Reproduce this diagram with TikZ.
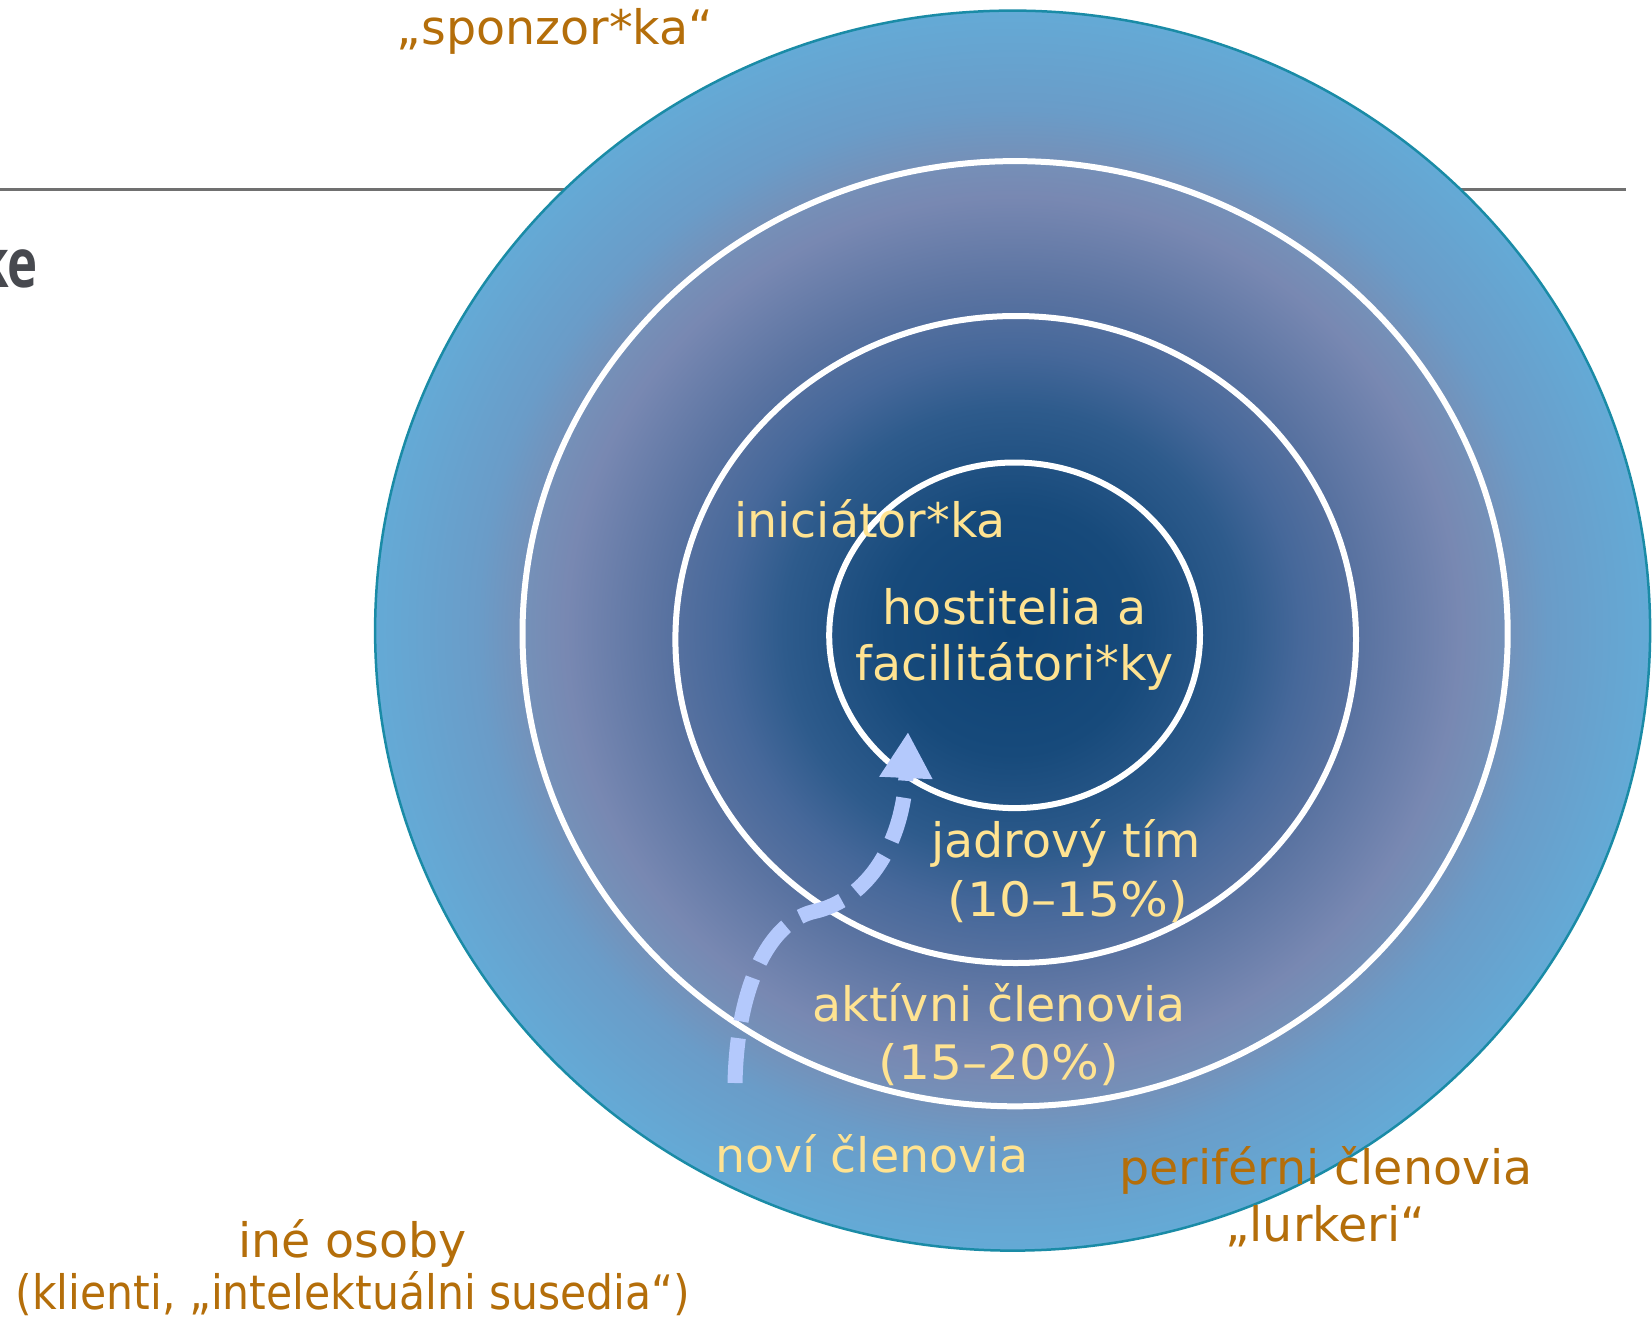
\documentclass[tikz,border=0pt]{standalone}
\usepackage{fontspec}
\setmainfont{DejaVu Sans}
\newfontfamily\titlefont{Open Sans}
\usetikzlibrary{arrows.meta}
\definecolor{labelyellow}{HTML}{FFE391}
\definecolor{labelorange}{HTML}{B46E0A}
\definecolor{rulegray}{HTML}{707070}
\definecolor{titlegray}{HTML}{47494F}
\definecolor{outerteal}{HTML}{1A8BA6}
\definecolor{arrowblue}{HTML}{B4C9FC}
\definecolor{cA}{HTML}{0E4274}
\definecolor{cB}{HTML}{174A7B}
\definecolor{cC}{HTML}{2E5B8C}
\definecolor{cD}{HTML}{46689A}
\definecolor{cE}{HTML}{5A73A1}
\definecolor{cF}{HTML}{7888B2}
\definecolor{cG}{HTML}{7590B8}
\definecolor{cH}{HTML}{6A9CC8}
\definecolor{cI}{HTML}{64AAD6}
\pgfdeclareradialshading{commshade}{\pgfpoint{0bp}{0bp}}{color(0bp)=(cA); color(5bp)=(cB); color(9bp)=(cC); color(11.25bp)=(cD); color(13.75bp)=(cE); color(17.5bp)=(cF); color(19bp)=(cG); color(21bp)=(cH); color(25bp)=(cI); color(50bp)=(cI)}
\begin{document}
\begin{tikzpicture}[x=1pt,y=-1pt,
  lbl/.style={font=\fontsize{47.5}{57}\selectfont, inner sep=0pt, anchor=base},
  yel/.style={lbl,text=labelyellow},
  org/.style={lbl,text=labelorange},
  ring/.style={draw=white,line width=6pt}]
\useasboundingbox (0,0) rectangle (1652,1318);
\draw[rulegray,line width=2.5pt] (0,189.5) -- (1626,189.5);
\node[anchor=base east, inner sep=0pt, text=titlegray, font=\titlefont\bfseries\fontsize{68}{80}\selectfont, xscale=0.75] (title) at (38,287) {ke};
\shadedraw[shading=commshade, draw=outerteal, line width=2.5pt] (1012.6,630.6) ellipse [x radius=637.5pt, y radius=620pt];
\draw[ring] (1015.1,633.7) ellipse [x radius=492.6pt, y radius=472.6pt];
\draw[ring] (1015.7,639.5) ellipse [x radius=340.3pt, y radius=323.5pt];
\draw[ring] (1014.6,635.3) ellipse [x radius=185.4pt, y radius=172.8pt];
\node[org] (sponzor) at (555,44) {„sponzor*ka“};
\node[yel] (inic) at (870,537) {iniciátor*ka};
\node[yel] (host1) at (1014.5,624) {hostitelia a};
\node[yel] (host2) at (1014.5,680.6) {facilitátori*ky};
\node[yel] (jadro1) at (1066,857.6) {jadrový tím};
\node[yel, xscale=1.06] (jadro2) at (1068,916.6) {(10–15\%)};
\node[yel] (akt1) at (999,1021) {aktívni členovia};
\node[yel, xscale=1.06] (akt2) at (999,1079) {(15–20\%)};
\node[yel] (novi) at (872,1172.6) {noví členovia};
\node[org] (peri1) at (1326,1184) {periférni členovia};
\node[org] (peri2) at (1325,1241) {„lurkeri“};
\node[org] (ine1) at (352.4,1257) {iné osoby};
\node[org, xscale=0.896] (ine2) at (353,1309.6) {(klienti, „intelektuálni susedia“)};
\coordinate (aS) at (735,1083);
\coordinate (aK) at (812,912);
\coordinate (aT) at (908,732);
\draw[arrowblue, line width=15pt, dash pattern=on 45pt off 17pt, -{Triangle[length=46pt,width=50pt]}] (aS) .. controls (737,988) and (768,924) .. (aK) .. controls (870,900) and (903,840) .. (aT);
\end{tikzpicture}
\end{document}
